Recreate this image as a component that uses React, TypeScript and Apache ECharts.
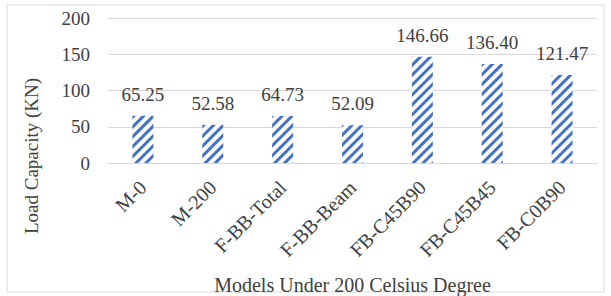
import React, { useEffect, useRef } from "react";
import * as echarts from "echarts";

const categories = ["M-0", "M-200", "F-BB-Total", "F-BB-Beam", "FB-C45B90", "FB-C45B45", "FB-C0B90"];
const values = [65.25, 52.58, 64.73, 52.09, 146.66, 136.4, 121.47];
const valueLabels = ["65.25", "52.58", "64.73", "52.09", "146.66", "136.40", "121.47"];
const yTicks = [0, 50, 100, 150, 200];
const yTitle = "Load Capacity (KN)";
const xTitle = "Models Under 200 Celsius Degree";

const FONT = "'Liberation Serif', 'Times New Roman', serif";
const TEXT = "#404040";
const BLUE = "#4472C4";

export default function App() {
  const ref = useRef<HTMLDivElement>(null);
  useEffect(() => {
    if (!ref.current) return;
    const chart = echarts.init(ref.current, null, { renderer: "svg" });
    chart.setOption({
      animation: false,
      backgroundColor: "#ffffff",
      graphic: [
        {
          type: "rect",
          shape: { x: 7, y: 5, width: 597, height: 287 },
          style: { fill: "none", stroke: "#d9d9d9", lineWidth: 1 },
          silent: true,
        },
        {
          type: "text",
          x: 31,
          y: 156,
          rotation: Math.PI / 2,
          style: {
            text: yTitle,
            fill: TEXT,
            font: `19px ${FONT}`,
            textAlign: "center",
            textVerticalAlign: "middle",
          },
          silent: true,
        },
      ],
      grid: {
        left: 108,
        right: 14,
        top: 18,
        bottom: 133,
        containLabel: false,
        outerBoundsMode: "none",
      },
      xAxis: {
        type: "category",
        data: categories,
        axisTick: { show: false },
        axisLine: { lineStyle: { color: "#d9d9d9", width: 1 } },
        axisLabel: {
          rotate: 45,
          color: TEXT,
          fontFamily: FONT,
          fontSize: 20,
          margin: 21,
          interval: 0,
        },
        name: xTitle,
        nameLocation: "middle",
        nameGap: 112,
        nameTextStyle: { color: TEXT, fontFamily: FONT, fontSize: 20 },
      },
      yAxis: {
        type: "value",
        min: yTicks[0],
        max: yTicks[yTicks.length - 1],
        interval: 50,
        axisLine: { show: false },
        axisTick: { show: false },
        splitLine: { lineStyle: { color: "#d9d9d9", width: 1 } },
        axisLabel: { color: TEXT, fontFamily: FONT, fontSize: 19, margin: 18 },
      },
      series: [
        {
          type: "bar",
          data: values.map((v, i) => ({ value: v, label: { formatter: valueLabels[i] } })),
          barWidth: 21,
          itemStyle: {
            color: "#ffffff",
            decal: {
              symbol: "rect",
              symbolSize: 1,
              color: BLUE,
              backgroundColor: "#ffffff",
              dashArrayX: [1, 0],
              dashArrayY: [3, 4],
              rotation: -Math.PI / 4,
            },
          },
          label: {
            show: true,
            position: "top",
            distance: 12,
            color: TEXT,
            fontFamily: FONT,
            fontSize: 19,
          },
        },
      ],
    });
    return () => chart.dispose();
  }, []);
  return (
    <div
      ref={ref}
      style={{ position: "fixed", left: 0, top: 0, width: 611, height: 296 }}
    />
  );
}
